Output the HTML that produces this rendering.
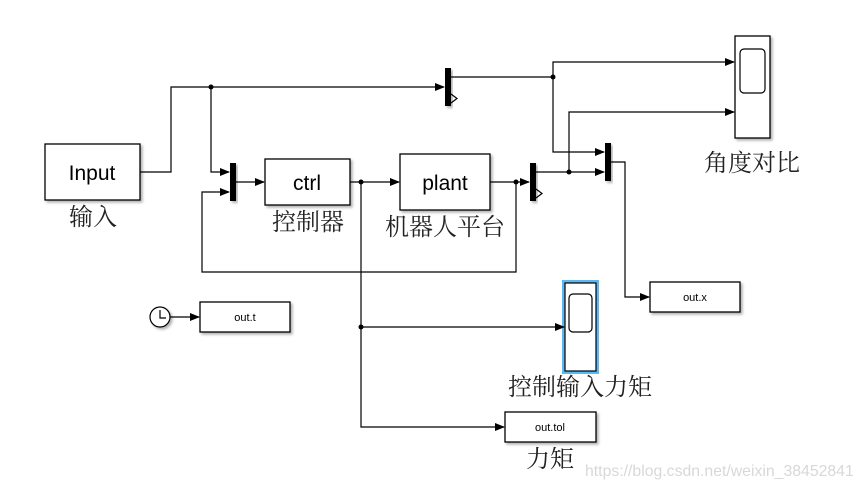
<!DOCTYPE html>
<html><head><meta charset="utf-8"><style>
html,body{margin:0;padding:0;background:#fff;width:863px;height:489px;overflow:hidden}
svg{display:block}
.b{fill:#fff;stroke:#000;stroke-width:1.3;filter:url(#sh)}
.l{fill:none;stroke:#000;stroke-width:1.2}
.m{fill:#000;filter:url(#sh)}
.t{font-family:"Liberation Sans",sans-serif;fill:#000}
.c{font-family:"Liberation Serif","Noto Serif CJK SC",serif;fill:#222;font-size:24px}
</style></head><body>
<svg width="863" height="489" viewBox="0 0 863 489">
<defs>
<filter id="sh" x="-20%" y="-20%" width="150%" height="150%"><feDropShadow dx="2" dy="2" stdDeviation="1.2" flood-color="#000" flood-opacity="0.3"/></filter>
<marker id="a" markerWidth="10" markerHeight="8" refX="9" refY="4" orient="auto" markerUnits="userSpaceOnUse"><path d="M0,0 L10,4 L0,8 Z" fill="#000"/></marker>
</defs>
<rect class="b" x="45" y="144" width="95" height="56"/>
<text class="t" x="92" y="180" font-size="21" text-anchor="middle">Input</text>
<text class="c" x="93" y="225" text-anchor="middle">输入</text>
<rect class="b" x="265" y="159" width="85" height="46"/>
<text class="t" x="307" y="190" font-size="21" text-anchor="middle">ctrl</text>
<text class="c" x="308" y="230" text-anchor="middle">控制器</text>
<rect class="b" x="400" y="154" width="90" height="56"/>
<text class="t" x="445" y="190" font-size="21" text-anchor="middle">plant</text>
<text class="c" x="445" y="235" text-anchor="middle">机器人平台</text>
<rect class="m" x="445" y="68" width="6" height="38"/>
<path d="M451,94 L457,98.5 L451,103" class="l"/>
<rect class="m" x="230" y="163" width="6" height="38"/>
<rect class="m" x="530" y="163" width="6" height="38"/>
<path d="M536,189 L542,193.5 L536,198" class="l"/>
<rect class="m" x="605" y="143" width="6" height="38"/>
<rect class="b" x="735" y="36" width="35" height="102"/>
<rect x="740" y="49" width="25" height="44" rx="4" fill="#fff" stroke="#000" stroke-width="1.2"/>
<text class="c" x="752" y="171" text-anchor="middle">角度对比</text>
<rect x="562" y="280" width="37" height="94" fill="#5bb8f5"/>
<rect x="565" y="283" width="31" height="88" fill="#fff" stroke="#000" stroke-width="1.2"/>
<rect x="569" y="294" width="23" height="38" rx="4" fill="#fff" stroke="#000" stroke-width="1.2"/>
<text class="c" x="580" y="395" text-anchor="middle">控制输入力矩</text>
<rect class="b" x="650" y="282" width="90" height="30"/>
<text class="t" x="695" y="301" font-size="11" text-anchor="middle">out.x</text>
<rect class="b" x="200" y="302" width="90" height="30"/>
<text class="t" x="245" y="321" font-size="11" text-anchor="middle">out.t</text>
<rect class="b" x="505" y="412" width="91" height="30"/>
<text class="t" x="550" y="431" font-size="11" text-anchor="middle">out.tol</text>
<text class="c" x="550" y="467" text-anchor="middle">力矩</text>
<circle cx="160" cy="317" r="10" fill="#fff" stroke="#000" stroke-width="1.2" filter="url(#sh)"/>
<path d="M160,310 L160,318 L166,318" class="l"/>
<path class="l" d="M140,172 H171 V87 H444" marker-end="url(#a)"/>
<path class="l" d="M211,87 V172 H229" marker-end="url(#a)"/>
<path class="l" d="M516,182 V272 H202 V192 H229" marker-end="url(#a)"/>
<path class="l" d="M236,182 H264" marker-end="url(#a)"/>
<path class="l" d="M350,182 H399" marker-end="url(#a)"/>
<path class="l" d="M490,182 H529" marker-end="url(#a)"/>
<path class="l" d="M451,77 H553 V152 H604" marker-end="url(#a)"/>
<path class="l" d="M553,77 V62 H734" marker-end="url(#a)"/>
<path class="l" d="M536,172 H604" marker-end="url(#a)"/>
<path class="l" d="M569,172 V112 H734" marker-end="url(#a)"/>
<path class="l" d="M611,162 H625 V297 H649" marker-end="url(#a)"/>
<path class="l" d="M361,182 V427 H504" marker-end="url(#a)"/>
<path class="l" d="M361,327 H564" marker-end="url(#a)"/>
<path class="l" d="M170,317 H199" marker-end="url(#a)"/>
<g fill="#000"><circle cx="211" cy="87" r="2.5"/><circle cx="361" cy="182" r="2.5"/><circle cx="516" cy="182" r="2.5"/><circle cx="553" cy="77" r="2.5"/><circle cx="569" cy="172" r="2.5"/><circle cx="361" cy="327" r="2.5"/></g>
<text x="585" y="476" font-family="Liberation Sans,sans-serif" font-size="15.8" fill="#d8d8d8">https://blog.csdn.net/weixin_38452841</text>
</svg>
</body></html>
